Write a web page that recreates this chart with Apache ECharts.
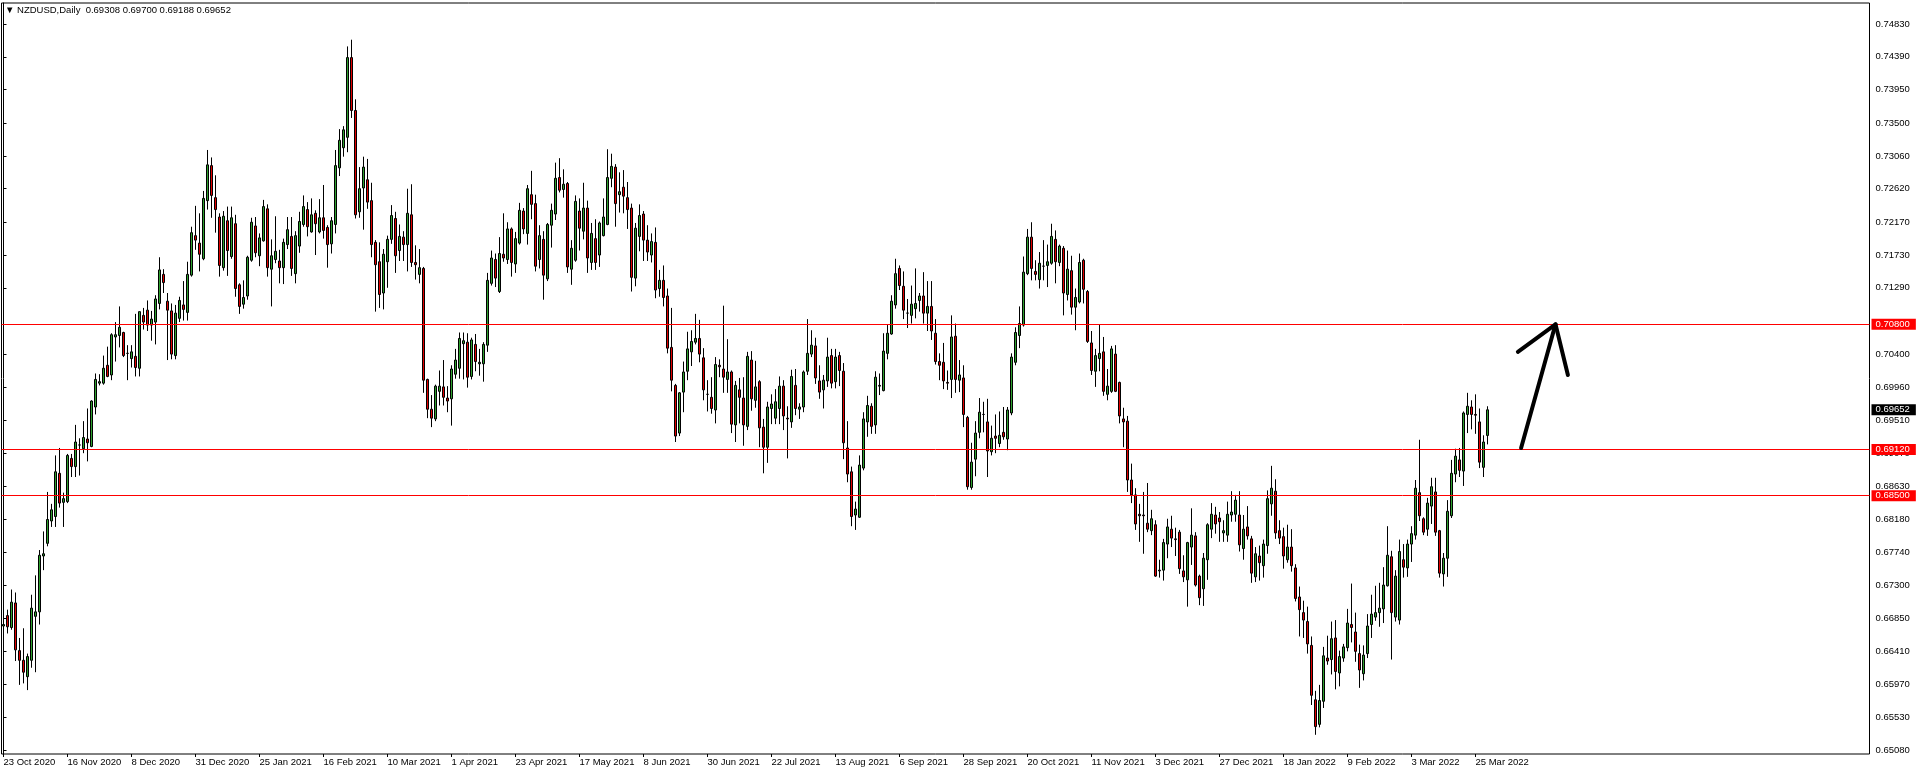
<!DOCTYPE html>
<html>
<head>
<meta charset="utf-8">
<script src="https://cdn.jsdelivr.net/npm/echarts@6/dist/echarts.min.js"></script>
<style>html,body{margin:0;padding:0;background:#fff}#chart{width:1916px;height:774px}</style>
</head>
<body>
<div id="chart"></div>
<script>
// ---------- data ----------
const symbolName = 'NZDUSD,Daily';
const firstDate = '2020-10-23';
const skippedDates = ['2020-12-25', '2021-01-01'];

const opens = [
0.6675,0.6689,0.6673,0.6706,0.6642,0.6629,0.6607,0.6629,0.6688,0.6694,
0.6769,0.6786,0.6816,0.6822,0.6880,0.6841,0.6842,0.6900,0.6889,0.6918,
0.6913,0.6926,0.6916,0.6969,0.7001,0.7001,0.7025,0.7012,0.7063,0.7065,
0.7069,0.7041,0.7034,0.7037,0.7021,0.7092,0.7099,0.7079,0.7083,0.7108,
0.7147,0.7111,0.7098,0.7038,0.7088,0.7106,0.7096,0.7146,0.7199,0.7189,
0.7168,0.7246,0.7293,0.7250,0.7224,0.7156,0.7219,0.7171,0.7215,0.7133,
0.7107,0.7118,0.7166,0.7212,0.7172,0.7192,0.7235,0.7154,0.7167,0.7165,
0.7156,0.7187,0.7198,0.7148,0.7185,0.7214,0.7234,0.7204,0.7229,0.7204,
0.7223,0.7210,0.7188,0.7214,0.7290,0.7317,0.7331,0.7438,0.7367,0.7231,
0.7263,0.7274,0.7246,0.7190,0.7164,0.7122,0.7164,0.7194,0.7222,0.7179,
0.7197,0.7187,0.7227,0.7163,0.7147,0.7155,0.7006,0.6966,0.6953,0.6990,
0.6996,0.6981,0.6980,0.7013,0.7021,0.7054,0.7056,0.7010,0.7053,0.7027,
0.7027,0.7052,0.7135,0.7167,0.7124,0.7174,0.7167,0.7208,0.7161,0.7189,
0.7232,0.7202,0.7254,0.7242,0.7167,0.7194,0.7141,0.7213,0.7228,0.7277,
0.7261,0.7269,0.7154,0.7166,0.7232,0.7205,0.7236,0.7163,0.7195,0.7173,
0.7199,0.7214,0.7276,0.7291,0.7254,0.7264,0.7250,0.7236,0.7142,0.7198,
0.7228,0.7193,0.7173,0.7190,0.7128,0.7139,0.7118,0.7049,0.6998,0.6934,
0.6989,0.7017,0.7043,0.7056,0.7061,0.7035,0.6986,0.6982,0.6965,0.7025,
0.7020,0.7006,0.7016,0.6945,0.6992,0.6981,0.6943,0.7032,0.6978,0.7003,
0.6942,0.6915,0.6967,0.6954,0.6967,0.6997,0.6954,0.6949,0.6998,0.6966,
0.6969,0.7017,0.7040,0.7051,0.7004,0.6992,0.7004,0.7038,0.7003,0.7038,
0.7017,0.6914,0.6882,0.6824,0.6821,0.6887,0.6949,0.6970,0.6945,0.6997,
0.6991,0.7041,0.7067,0.7106,0.7155,0.7131,0.7095,0.7092,0.7101,0.7112,
0.7118,0.7095,0.7104,0.7068,0.7030,0.7029,0.7002,0.7006,0.7064,0.7005,
0.7008,0.6955,0.6861,0.6899,0.6935,0.6959,0.6949,0.6909,0.6930,0.6920,
0.6935,0.6926,0.6961,0.7029,0.7065,0.7079,0.7148,0.7197,0.7151,0.7140,
0.7158,0.7159,0.7162,0.7194,0.7163,0.7182,0.7120,0.7152,0.7103,0.7110,
0.7166,0.7124,0.7055,0.7017,0.7034,0.7043,0.6986,0.6990,0.7040,0.7002,
0.6953,0.6950,0.6871,0.6851,0.6825,0.6824,0.6813,0.6803,0.6811,0.6749,
0.6750,0.6785,0.6805,0.6792,0.6801,0.6749,0.6737,0.6781,0.6796,0.6742,
0.6725,0.6764,0.6805,0.6824,0.6820,0.6800,0.6797,0.6824,0.6825,0.6824,
0.6779,0.6808,0.6792,0.6741,0.6769,0.6756,0.6783,0.6839,0.6856,0.6803,
0.6795,0.6764,0.6781,0.6753,0.6714,0.6693,0.6681,0.6649,0.6576,0.6543,
0.6574,0.6632,0.6630,0.6659,0.6612,0.6632,0.6646,0.6677,0.6667,0.6638,
0.6611,0.6638,0.6677,0.6687,0.6693,0.6698,0.6729,0.6768,0.6687,0.6683,
0.6764,0.6753,0.6785,0.6797,0.6854,0.6819,0.6805,0.6836,0.6855,0.6803,
0.6745,0.6766,0.6823,0.6879,0.6898,0.6883,0.6959,0.6969,0.6959,0.6949,
0.6888,0.69308];

const highs = [
0.6706,0.6697,0.6724,0.6720,0.6659,0.6672,0.6638,0.6717,0.6743,0.6777,
0.6802,0.6855,0.6839,0.6904,0.6914,0.6854,0.6906,0.6906,0.6945,0.6927,
0.6950,0.6967,0.6978,0.7014,0.7013,0.7038,0.7050,0.7068,0.7083,0.7104,
0.7070,0.7052,0.7052,0.7094,0.7097,0.7102,0.7112,0.7098,0.7119,0.7170,
0.7154,0.7122,0.7108,0.7106,0.7117,0.7138,0.7164,0.7211,0.7239,0.7229,
0.7259,0.7314,0.7304,0.7280,0.7229,0.7232,0.7238,0.7238,0.7227,0.7135,
0.7139,0.7172,0.7223,0.7224,0.7202,0.7247,0.7241,0.7194,0.7225,0.7180,
0.7195,0.7224,0.7224,0.7205,0.7231,0.7253,0.7244,0.7249,0.7233,0.7248,
0.7267,0.7213,0.7224,0.7314,0.7342,0.7346,0.7453,0.7462,0.7382,0.7291,
0.7305,0.7302,0.7270,0.7193,0.7190,0.7181,0.7199,0.7240,0.7231,0.7214,
0.7205,0.7262,0.7268,0.7186,0.7181,0.7157,0.7007,0.6985,0.6999,0.7018,
0.7032,0.6997,0.7025,0.7047,0.7069,0.7069,0.7068,0.7062,0.7067,0.7047,
0.7056,0.7149,0.7179,0.7175,0.7197,0.7229,0.7217,0.7210,0.7204,0.7243,
0.7236,0.7267,0.7286,0.7254,0.7213,0.7205,0.7216,0.7242,0.7297,0.7303,
0.7288,0.7271,0.7193,0.7253,0.7249,0.7270,0.7246,0.7216,0.7221,0.7218,
0.7249,0.7315,0.7309,0.7295,0.7284,0.7287,0.7271,0.7242,0.7216,0.7241,
0.7232,0.7213,0.7202,0.7210,0.7153,0.7159,0.7128,0.7102,0.7000,0.6989,
0.7030,0.7070,0.7072,0.7094,0.7086,0.7048,0.7005,0.7009,0.7036,0.7033,
0.7105,0.7060,0.7018,0.7004,0.7008,0.7009,0.7043,0.7044,0.7031,0.7005,
0.6953,0.6976,0.6986,0.6993,0.7010,0.7005,0.6970,0.7019,0.7020,0.6974,
0.7018,0.7087,0.7072,0.7062,0.7025,0.7012,0.7062,0.7047,0.7047,0.7043,
0.7028,0.6950,0.6889,0.6842,0.6904,0.6962,0.6984,0.6974,0.7017,0.7014,
0.7068,0.7079,0.7119,0.7168,0.7159,0.7151,0.7114,0.7132,0.7155,0.7122,
0.7150,0.7138,0.7138,0.7087,0.7041,0.7055,0.7018,0.7092,0.7081,0.7032,
0.7025,0.6957,0.6921,0.6950,0.6981,0.6976,0.6980,0.6944,0.6959,0.6963,
0.6969,0.6969,0.7041,0.7076,0.7104,0.7171,0.7208,0.7217,0.7166,0.7177,
0.7193,0.7187,0.7215,0.7206,0.7187,0.7185,0.7179,0.7172,0.7128,0.7175,
0.7168,0.7126,0.7071,0.7047,0.7080,0.7063,0.7020,0.7051,0.7052,0.7003,
0.6968,0.6957,0.6893,0.6860,0.6839,0.6855,0.6867,0.6831,0.6817,0.6764,
0.6792,0.6819,0.6823,0.6807,0.6804,0.6770,0.6788,0.6833,0.6801,0.6744,
0.6773,0.6813,0.6840,0.6835,0.6828,0.6817,0.6842,0.6856,0.6851,0.6856,
0.6824,0.6836,0.6796,0.6781,0.6783,0.6791,0.6857,0.6890,0.6872,0.6817,
0.6807,0.6811,0.6805,0.6758,0.6728,0.6709,0.6701,0.6661,0.6588,0.6596,
0.6647,0.6662,0.6681,0.6683,0.6642,0.6651,0.6698,0.6732,0.6693,0.6650,
0.6649,0.6691,0.6717,0.6729,0.6733,0.6754,0.6809,0.6776,0.6750,0.6791,
0.6785,0.6791,0.6809,0.6871,0.6925,0.6821,0.6847,0.6874,0.6874,0.6804,
0.6773,0.6844,0.6898,0.6913,0.6914,0.6963,0.6988,0.6978,0.6986,0.6967,
0.6931,0.69700];

const lows = [
0.6657,0.6665,0.6670,0.6628,0.6596,0.6598,0.6589,0.6619,0.6613,0.6677,
0.6750,0.6782,0.6808,0.6808,0.6834,0.6808,0.6840,0.6875,0.6875,0.6877,
0.6907,0.6896,0.6915,0.6959,0.6998,0.6999,0.7009,0.7005,0.7030,0.7049,
0.7036,0.7005,0.7022,0.7010,0.7010,0.7073,0.7071,0.7058,0.7053,0.7100,
0.7122,0.7032,0.7033,0.7033,0.7083,0.7085,0.7085,0.7144,0.7180,0.7151,
0.7166,0.7234,0.7223,0.7203,0.7144,0.7152,0.7145,0.7168,0.7117,0.7094,
0.7101,0.7113,0.7164,0.7170,0.7158,0.7191,0.7144,0.7104,0.7162,0.7135,
0.7134,0.7181,0.7145,0.7135,0.7176,0.7211,0.7198,0.7203,0.7173,0.7202,
0.7195,0.7156,0.7175,0.7202,0.7279,0.7305,0.7311,0.7357,0.7222,0.7223,
0.7207,0.7235,0.7170,0.7097,0.7102,0.7100,0.7129,0.7188,0.7149,0.7165,
0.7165,0.7151,0.7157,0.7140,0.7135,0.6988,0.6954,0.6942,0.6950,0.6971,
0.6971,0.6962,0.6944,0.7007,0.7007,0.7006,0.6995,0.7006,0.7017,0.7011,
0.7003,0.7043,0.7132,0.7130,0.7122,0.7164,0.7161,0.7144,0.7149,0.7187,
0.7201,0.7187,0.7221,0.7151,0.7155,0.7113,0.7138,0.7183,0.7220,0.7257,
0.7250,0.7149,0.7133,0.7164,0.7179,0.7194,0.7149,0.7153,0.7153,0.7157,
0.7198,0.7213,0.7264,0.7211,0.7230,0.7229,0.7208,0.7124,0.7131,0.7178,
0.7165,0.7165,0.7163,0.7115,0.7117,0.7104,0.7041,0.6990,0.6922,0.6930,
0.6962,0.7005,0.7024,0.7053,0.7029,0.6978,0.6963,0.6960,0.6947,0.7009,
0.6988,0.6988,0.6934,0.6922,0.6947,0.6917,0.6938,0.6964,0.6968,0.6915,
0.6880,0.6894,0.6946,0.6946,0.6946,0.6938,0.6900,0.6941,0.6958,0.6953,
0.6962,0.7012,0.7036,0.7000,0.6980,0.6967,0.6996,0.6994,0.6994,0.6997,
0.6899,0.6868,0.6809,0.6804,0.6820,0.6884,0.6929,0.6933,0.6933,0.6985,
0.6990,0.7033,0.7066,0.7101,0.7126,0.7087,0.7075,0.7081,0.7088,0.7097,
0.7081,0.7071,0.7059,0.7026,0.7005,0.6993,0.6992,0.6981,0.6988,0.6989,
0.6942,0.6858,0.6858,0.6876,0.6927,0.6935,0.6875,0.6904,0.6907,0.6915,
0.6925,0.6911,0.6958,0.7025,0.7048,0.7077,0.7146,0.7139,0.7139,0.7128,
0.7139,0.7130,0.7160,0.7135,0.7158,0.7092,0.7112,0.7093,0.7072,0.7108,
0.7108,0.7055,0.7012,0.6996,0.7017,0.6984,0.6978,0.6988,0.6989,0.6947,
0.6915,0.6855,0.6840,0.6804,0.6788,0.6772,0.6801,0.6797,0.6741,0.6740,
0.6736,0.6766,0.6781,0.6769,0.6745,0.6734,0.6701,0.6757,0.6728,0.6703,
0.6702,0.6737,0.6793,0.6799,0.6788,0.6788,0.6788,0.6815,0.6815,0.6775,
0.6764,0.6791,0.6733,0.6734,0.6736,0.6740,0.6772,0.6823,0.6792,0.6785,
0.6752,0.6760,0.6748,0.6708,0.6661,0.6659,0.6638,0.6569,0.6529,0.6539,
0.6565,0.6623,0.6610,0.6590,0.6594,0.6627,0.6641,0.6653,0.6627,0.6592,
0.6602,0.6632,0.6659,0.6682,0.6674,0.6679,0.6728,0.6630,0.6681,0.6677,
0.6740,0.6741,0.6761,0.6791,0.6816,0.6797,0.6796,0.6812,0.6796,0.6740,
0.6728,0.6741,0.6820,0.6868,0.6875,0.6863,0.6934,0.6939,0.6933,0.6887,
0.6875,0.69188];

const closes = [
0.6677,0.6674,0.6707,0.6643,0.6629,0.6613,0.6634,0.6699,0.6694,0.6770,
0.6772,0.6818,0.6831,0.6882,0.6840,0.6846,0.6904,0.6889,0.6922,0.6918,
0.6928,0.6921,0.6977,0.7006,0.7003,0.7021,0.7010,0.7066,0.7066,0.7076,
0.7038,0.7041,0.7043,0.7022,0.7097,0.7083,0.7079,0.7087,0.7114,0.7153,
0.7136,0.7099,0.7040,0.7095,0.7112,0.7100,0.7147,0.7203,0.7193,0.7174,
0.7249,0.7294,0.7253,0.7234,0.7159,0.7225,0.7179,0.7223,0.7128,0.7104,
0.7116,0.7170,0.7217,0.7176,0.7196,0.7238,0.7156,0.7172,0.7178,0.7156,
0.7190,0.7207,0.7155,0.7199,0.7218,0.7238,0.7211,0.7227,0.7215,0.7223,
0.7206,0.7187,0.7219,0.7293,0.7327,0.7341,0.7438,0.7367,0.7227,0.7262,
0.7291,0.7244,0.7187,0.7160,0.7120,0.7174,0.7194,0.7226,0.7172,0.7198,
0.7187,0.7229,0.7163,0.7160,0.7156,0.7005,0.6966,0.6954,0.6997,0.6997,
0.6982,0.6977,0.7020,0.7032,0.7061,0.7058,0.7009,0.7059,0.7030,0.7029,
0.7053,0.7139,0.7169,0.7142,0.7175,0.7169,0.7208,0.7163,0.7195,0.7233,
0.7208,0.7262,0.7241,0.7158,0.7199,0.7146,0.7214,0.7233,0.7276,0.7260,
0.7268,0.7157,0.7182,0.7245,0.7209,0.7236,0.7169,0.7202,0.7163,0.7216,
0.7224,0.7277,0.7292,0.7242,0.7258,0.7252,0.7234,0.7143,0.7209,0.7226,
0.7193,0.7177,0.7191,0.7126,0.7139,0.7116,0.7048,0.7005,0.6930,0.6988,
0.7016,0.7047,0.7057,0.7061,0.7040,0.6992,0.6986,0.6967,0.7026,0.7023,
0.7009,0.7016,0.6946,0.6998,0.6982,0.6945,0.7037,0.6980,0.6996,0.6941,
0.6915,0.6969,0.6973,0.6976,0.6997,0.6957,0.6953,0.7010,0.6967,0.6969,
0.7016,0.7041,0.7052,0.7008,0.6989,0.7005,0.7036,0.7001,0.7036,0.7018,
0.6921,0.6879,0.6822,0.6832,0.6891,0.6953,0.6971,0.6943,0.7009,0.6998,
0.7044,0.7068,0.7111,0.7148,0.7132,0.7099,0.7095,0.7107,0.7108,0.7118,
0.7095,0.7104,0.7071,0.7030,0.7025,0.7004,0.7001,0.7063,0.7006,0.7012,
0.6959,0.6862,0.6895,0.6934,0.6962,0.6959,0.6910,0.6927,0.6927,0.6931,
0.6929,0.6965,0.7036,0.7069,0.7081,0.7150,0.7197,0.7155,0.7147,0.7162,
0.7158,0.7164,0.7198,0.7164,0.7185,0.7122,0.7154,0.7103,0.7116,0.7163,
0.7127,0.7057,0.7018,0.7038,0.7041,0.6990,0.6997,0.7047,0.6990,0.6957,
0.6949,0.6871,0.6851,0.6812,0.6823,0.6823,0.6805,0.6819,0.6742,0.6750,
0.6787,0.6808,0.6793,0.6791,0.6752,0.6741,0.6787,0.6797,0.6730,0.6713,
0.6766,0.6811,0.6825,0.6812,0.6815,0.6803,0.6825,0.6828,0.6844,0.6784,
0.6805,0.6796,0.6746,0.6772,0.6760,0.6785,0.6846,0.6860,0.6800,0.6793,
0.6769,0.6781,0.6756,0.6712,0.6697,0.6683,0.6651,0.6582,0.6540,0.6575,
0.6635,0.6628,0.6658,0.6614,0.6634,0.6647,0.6679,0.6673,0.6641,0.6616,
0.6636,0.6675,0.6691,0.6693,0.6699,0.6730,0.6770,0.6693,0.6742,0.6775,
0.6754,0.6785,0.6799,0.6860,0.6823,0.6801,0.6840,0.6862,0.6801,0.6746,
0.6766,0.6829,0.6880,0.6903,0.6884,0.6961,0.6970,0.6959,0.6958,0.6895,
0.6922,0.69652];

// horizontal levels, price-scale labels and the hand-drawn arrow (index, price)
const levelLines = [0.70800, 0.69120, 0.68500];
const priceTicks = [0.74830,0.74390,0.73950,0.73500,0.73060,0.72620,0.72170,0.71730,0.71290,
  0.70400,0.69960,0.69510,0.69070,0.68630,0.68180,0.67740,0.67300,0.66850,0.66410,0.65970,0.65530,0.65080];
const arrowShaft = [[379.4, 0.6914], [388.0, 0.7080]];
const arrowHead = [[378.6, 0.7043], [388.0, 0.7080], [391.1, 0.7012]];
const labelEvery = 16;

// ---------- layout constants ----------
const FONT = '"Liberation Sans", Arial, sans-serif';
const FS = 9.5;
const SLOTS = 467;          // visible bar slots (4 px each)
const Y_MIN = 0.650322, Y_MAX = 0.751128;

// ---------- build categories ----------
const MONTHS = ['Jan','Feb','Mar','Apr','May','Jun','Jul','Aug','Sep','Oct','Nov','Dec'];
const categories = [];
{
  const d = new Date(firstDate + 'T00:00:00Z');
  while (categories.length < opens.length) {
    const iso = d.toISOString().slice(0, 10);
    const wd = d.getUTCDay();
    if (wd !== 0 && wd !== 6 && skippedDates.indexOf(iso) < 0) {
      categories.push(d.getUTCDate() + ' ' + MONTHS[d.getUTCMonth()] + ' ' + d.getUTCFullYear());
    }
    d.setUTCDate(d.getUTCDate() + 1);
  }
}
const xData = categories.slice();
for (let i = categories.length; i < SLOTS; i++) xData.push('pad' + i);

const candles = opens.map((o, i) => [o, closes[i], lows[i], highs[i]]);
const nBars = opens.length;
const last = nBars - 1;
const showLabel = (idx) => idx < nBars && idx % labelEvery === 0;

const tagLabel = (bg) => ({
  show: true, position: 'end', distance: 2, formatter: (p) => Number(p.value).toFixed(5),
  color: '#ffffff', backgroundColor: bg, padding: [1, 6, 0, 4],
  fontFamily: FONT, fontSize: FS
});

const chart = echarts.init(document.getElementById('chart'), null, {renderer: 'canvas'});
chart.setOption({
  animation: false,
  backgroundColor: '#ffffff',
  grid: {
    left: 1.5, top: 3, width: SLOTS * 4, height: 751,
    show: true, borderColor: '#000', borderWidth: 1, backgroundColor: '#ffffff'
  },
  graphic: [{
    type: 'text', left: 5, top: 5,
    style: {
      text: '\u25BC ' + symbolName + '  ' + [opens[last], highs[last], lows[last], closes[last]].map(v => v.toFixed(5)).join(' '),
      font: FS + 'px ' + FONT, fill: '#000'
    }
  }],
  xAxis: [{
    type: 'category', data: xData, boundaryGap: true,
    axisLine: {show: false},
    axisTick: {show: true, alignWithLabel: true, interval: (i) => showLabel(i), length: 3, lineStyle: {color: '#000'}},
    axisLabel: {
      interval: (i) => showLabel(i), align: 'left', margin: 3,
      color: '#000', fontFamily: FONT, fontSize: FS, hideOverlap: false
    },
    splitLine: {show: false}
  }, {
    type: 'value', min: -0.5, max: SLOTS - 0.5, show: false
  }],
  yAxis: {
    type: 'value', position: 'right', min: Y_MIN, max: Y_MAX, scale: true,
    axisLine: {show: true, lineStyle: {color: '#000'}},
    axisTick: {show: true, length: 3, customValues: priceTicks, lineStyle: {color: '#000'}},
    axisLabel: {
      customValues: priceTicks, margin: 6, color: '#000', fontFamily: FONT, fontSize: FS,
      formatter: (v) => v.toFixed(5), hideOverlap: false
    },
    splitLine: {show: false}
  },
  series: [{
    type: 'candlestick',
    data: candles,
    barWidth: 2,
    itemStyle: {
      color: '#2ea02e', color0: '#e00000',
      borderColor: '#000', borderColor0: '#000', borderColorDoji: '#000', borderWidth: 1
    },
    markLine: {
      silent: true, symbol: ['none', 'none'], animation: false, precision: 5,
      lineStyle: {color: '#ff0000', type: 'solid', width: 1},
      label: tagLabel('#ff0000'),
      data: levelLines.map(v => ({yAxis: v}))
    }
  }, {
    type: 'line', xAxisIndex: 1, data: arrowShaft, symbol: 'none', z: 10,
    lineStyle: {color: '#000', width: 4, cap: 'round'}
  }, {
    type: 'line', xAxisIndex: 1, data: arrowHead, symbol: 'none', z: 10,
    lineStyle: {color: '#000', width: 4, cap: 'round', join: 'round'}
  }, {
    // current bid tag (no line, only the price-scale tag)
    type: 'line', data: [], symbol: 'none',
    markLine: {
      silent: true, symbol: ['none', 'none'], animation: false, precision: 5,
      lineStyle: {color: 'rgba(0,0,0,0)', width: 0},
      label: tagLabel('#000000'),
      data: [{yAxis: closes[last]}]
    }
  }]
});
</script>
</body>
</html>
